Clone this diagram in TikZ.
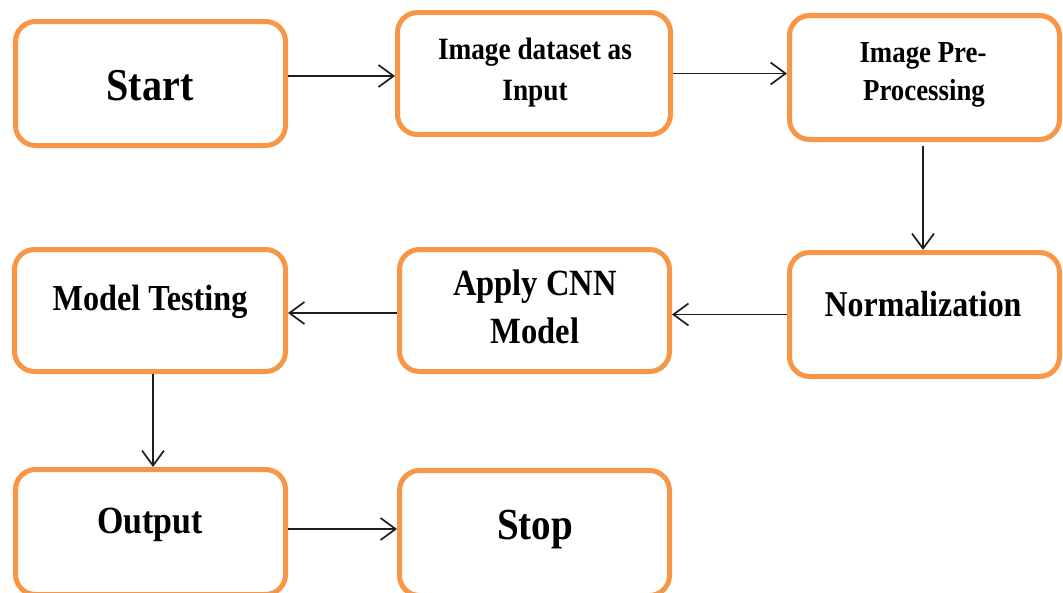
\documentclass[tikz,border=0pt]{standalone}
\usepackage{fontspec}
\setmainfont[FakeStretch=0.88]{Liberation Serif}
\usetikzlibrary{arrows.meta}
\definecolor{boxorange}{RGB}{247,150,70}
\definecolor{arrowink}{RGB}{30,30,30}
\tikzset{
  stepbox/.style={draw=boxorange, line width=5pt, rounded corners=20pt,
    fill=white, minimum width=270pt, minimum height=124pt, inner sep=0pt},
  txt/.style={anchor=base, inner sep=0pt, font=\bfseries},
  flow/.style={draw=arrowink, line width=1.7pt,
    -{Straight Barb[length=15pt,width=22pt,line width=1.7pt]}},
}
\newcommand{\fs}[1]{\fontsize{#1}{#1}\selectfont}
\begin{document}
\begin{tikzpicture}[x=1pt,y=-1pt]
\useasboundingbox (0,0) rectangle (1063,592);

% boxes
\node[stepbox] (start) at (150.5,83.5) {};
\node[stepbox, minimum width=273pt, minimum height=122pt] (data) at (534,73.5) {};
\node[stepbox] (pre) at (924.5,77.5) {};
\node[stepbox] (norm) at (924.5,314.5) {};
\node[stepbox, minimum height=122pt] (cnn) at (534.5,310.5) {};
\node[stepbox, minimum width=271pt, minimum height=122pt] (test) at (150,310.5) {};
\node[stepbox, minimum height=125pt] (out) at (150.5,532) {};
\node[stepbox, minimum height=125pt] (stop) at (534.5,533) {};

% labels
\node[txt, font=\bfseries\fs{45.6}] (tstart) at (150,100) {Start};
\node[txt, font=\bfseries\fs{31}] (tdata1) at (535,59) {Image dataset as};
\node[txt, font=\bfseries\fs{31}] (tdata2) at (535,100) {Input};
\node[txt, font=\bfseries\fs{30.5}] (tpre1) at (923,62) {Image Pre-};
\node[txt, font=\bfseries\fs{30.5}] (tpre2) at (924,100) {Processing};
\node[txt, font=\bfseries\fs{36.3}] (tnorm) at (923,316) {Normalization};
\node[txt, font=\bfseries\fs{37}] (tcnn1) at (535,295) {Apply CNN};
\node[txt, font=\bfseries\fs{37}] (tcnn2) at (535,343) {Model};
\node[txt, font=\bfseries\fs{36.6}] (ttest) at (150,310) {Model Testing};
\node[txt, font=\bfseries\fs{38.5}] (tout) at (150,533) {Output};
\node[txt, font=\bfseries\fs{44.4}] (tstop) at (535,539) {Stop};

% connectors
\draw[flow] ([yshift=7.5pt]start.east) -- ([yshift=7.5pt]start.east -| data.west);
\draw[flow] (data.east) -- (data.east -| pre.west);
\draw[flow] ([shift={(-1.5pt,-4pt)}]pre.south) -- ([xshift=-1.5pt]pre.south |- norm.north);
\draw[flow] (norm.west) -- (norm.west -| cnn.east);
\draw[flow] ([yshift=-2.5pt]cnn.west) -- ([yshift=-2.5pt]cnn.west -| test.east);
\draw[flow] ([xshift=3pt]test.south) -- ([xshift=3pt]test.south |- out.north);
\draw[flow] ([yshift=3pt]out.east) -- ([yshift=3pt]out.east -| stop.west);
\end{tikzpicture}
\end{document}
